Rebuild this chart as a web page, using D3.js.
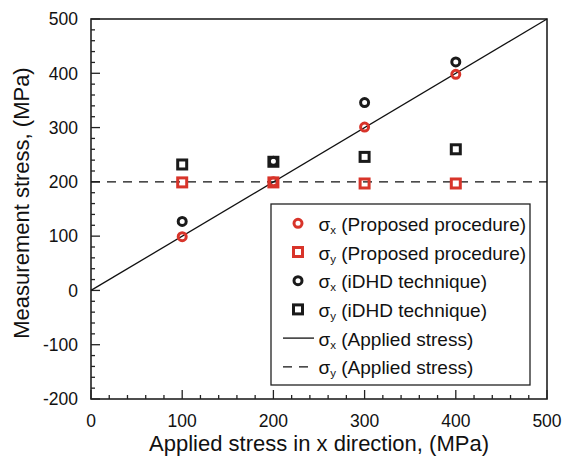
<!DOCTYPE html>
<html><head><meta charset="utf-8">
<script src="https://cdn.jsdelivr.net/npm/d3@7"></script>
<style>body{margin:0;background:#fff}svg{display:block;font-family:"Liberation Sans",Arial,sans-serif}</style>
</head><body><svg id="c" width="563" height="457"></svg>
<script>
const xCats = [100, 200, 300, 400];
const propSx = [99, 200, 301, 398];
const propSy = [199, 199, 197, 197];
const idhdSx = [127, 238, 346, 421];
const idhdSy = [232, 237, 246, 260];
const appliedSx = [[0, 0], [500, 500]];
const appliedSy = [[0, 200], [500, 200]];
const xTicks = [0, 100, 200, 300, 400, 500];
const yTicks = [-200, -100, 0, 100, 200, 300, 400, 500];
const legendLabels = [
  ["x", " (Proposed procedure)"],
  ["y", " (Proposed procedure)"],
  ["x", " (iDHD technique)"],
  ["y", " (iDHD technique)"],
  ["x", " (Applied stress)"],
  ["y", " (Applied stress)"]
];
const RED = "#d8342a";

const svg = d3.select("#c");
const L = 91, R = 547, T = 19, B = 399;
const x = d3.scaleLinear().domain([0, 500]).range([L, R]);
const y = d3.scaleLinear().domain([-200, 500]).range([B, T]);

// minor ticks
const g = svg.append("g");
const xMinor = d3.range(0, 501, 20).filter(v => v % 100 !== 0);
const yMinor = d3.range(-200, 501, 20).filter(v => v % 100 !== 0);
g.selectAll(".xm").data(xMinor).enter().append("line")
  .attr("x1", d => x(d)).attr("x2", d => x(d)).attr("y1", B).attr("y2", B - 4)
  .attr("stroke", "#222").attr("stroke-width", 1.3);
g.selectAll(".xM").data(xTicks).enter().append("line")
  .attr("x1", d => x(d)).attr("x2", d => x(d)).attr("y1", B).attr("y2", B - 9)
  .attr("stroke", "#222").attr("stroke-width", 1.3);
g.selectAll(".ym").data(yMinor).enter().append("line")
  .attr("y1", d => y(d)).attr("y2", d => y(d)).attr("x1", L).attr("x2", L + 4)
  .attr("stroke", "#222").attr("stroke-width", 1.3);
g.selectAll(".yM").data(yTicks).enter().append("line")
  .attr("y1", d => y(d)).attr("y2", d => y(d)).attr("x1", L).attr("x2", L + 9)
  .attr("stroke", "#222").attr("stroke-width", 1.3);

// frame
svg.append("rect").attr("x", L).attr("y", T).attr("width", R - L).attr("height", B - T)
  .attr("fill", "none").attr("stroke", "#222").attr("stroke-width", 1.6);

// tick labels
svg.selectAll(".xl").data(xTicks).enter().append("text")
  .attr("x", d => x(d)).attr("y", 427).attr("text-anchor", "middle")
  .attr("font-size", 17.5).attr("fill", "#111").text(d => d);
svg.selectAll(".yl").data(yTicks).enter().append("text")
  .attr("x", L - 13).attr("y", d => y(d) + 6.3).attr("text-anchor", "end")
  .attr("font-size", 17.5).attr("fill", "#111").text(d => d);

// axis titles
svg.append("text").attr("x", 319).attr("y", 451).attr("text-anchor", "middle")
  .attr("font-size", 22).attr("fill", "#111").text("Applied stress in x direction, (MPa)");
svg.append("text").attr("transform", `translate(29,203) rotate(-90)`)
  .attr("text-anchor", "middle").attr("font-size", 22).attr("fill", "#111")
  .text("Measurement stress, (MPa)");

// lines
const line = d3.line().x(d => x(d[0])).y(d => y(d[1]));
svg.append("path").attr("d", line(appliedSx)).attr("fill", "none").attr("stroke", "#111").attr("stroke-width", 1.3);
svg.append("path").attr("d", line(appliedSy)).attr("fill", "none").attr("stroke", "#111")
  .attr("stroke-width", 1.3).attr("stroke-dasharray", "9,7");

// markers
function circles(vals, color) {
  svg.append("g").selectAll("circle").data(xCats).enter().append("circle")
    .attr("cx", (d) => x(d)).attr("cy", (d, i) => y(vals[i])).attr("r", 4)
    .attr("fill", "none").attr("stroke", color).attr("stroke-width", 3);
}
function squares(vals, color) {
  svg.append("g").selectAll("rect").data(xCats).enter().append("rect")
    .attr("x", d => x(d) - 4.5).attr("y", (d, i) => y(vals[i]) - 4.5)
    .attr("width", 9).attr("height", 9)
    .attr("fill", "none").attr("stroke", color).attr("stroke-width", 3);
}
circles(idhdSx, "#1a1a1a");
squares(idhdSy, "#1a1a1a");
squares(propSy, RED);
circles(propSx, RED);

// legend
const lg = svg.append("g");
lg.append("rect").attr("x", 271).attr("y", 204).attr("width", 259).attr("height", 181)
  .attr("fill", "#fff").attr("stroke", "#222").attr("stroke-width", 1.3);
const rowY = i => 223.3 + i * 28.7;
legendLabels.forEach((lab, i) => {
  const cy = rowY(i);
  if (i === 0 || i === 2) {
    lg.append("circle").attr("cx", 298).attr("cy", cy).attr("r", 4).attr("fill", "none")
      .attr("stroke", i === 0 ? RED : "#1a1a1a").attr("stroke-width", 3);
  } else if (i === 1 || i === 3) {
    lg.append("rect").attr("x", 298 - 4.5).attr("y", cy - 4.5).attr("width", 9).attr("height", 9)
      .attr("fill", "none").attr("stroke", i === 1 ? RED : "#1a1a1a").attr("stroke-width", 3);
  } else {
    lg.append("line").attr("x1", 283).attr("x2", 314).attr("y1", cy).attr("y2", cy)
      .attr("stroke", "#111").attr("stroke-width", 1.3)
      .attr("stroke-dasharray", i === 5 ? "9,7" : null);
  }
  const t = lg.append("text").attr("x", 318.5).attr("y", cy + 7.5).attr("font-size", 19).attr("fill", "#111");
  t.append("tspan").text("σ");
  t.append("tspan").attr("font-size", 11.5).attr("dy", 3).text(lab[0]);
  t.append("tspan").attr("dy", -3).text(lab[1]);
});
</script></body></html>
